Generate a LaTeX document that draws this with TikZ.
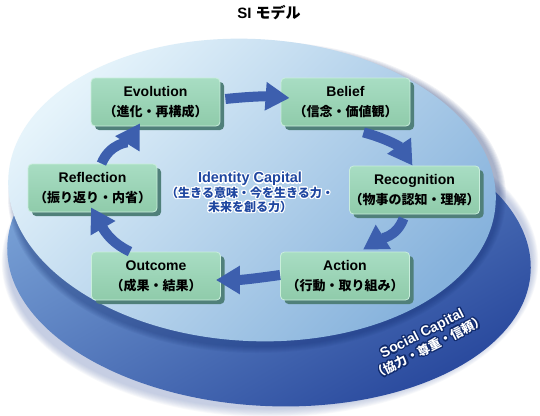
\documentclass[tikz,border=0pt]{standalone}
\usepackage{fontspec}
\setmainfont{Liberation Sans}
\newfontfamily\jp{Noto Sans CJK JP}
\usepackage{contour}
\usetikzlibrary{arrows.meta,shadows}
\definecolor{arrowblue}{HTML}{3D5FAE}
\definecolor{boxTop}{HTML}{A8DDC3}
\definecolor{boxBot}{HTML}{8FCBAA}
\definecolor{boxEdge}{HTML}{C9EEDC}
\definecolor{boxShadow}{HTML}{50807A}
\definecolor{innerTL}{HTML}{E6F4FB}
\definecolor{innerBR}{HTML}{86B2DC}
\definecolor{outerL}{HTML}{7FA8DA}
\definecolor{outerR}{HTML}{2A4A9E}
\definecolor{shadowBlue}{HTML}{8A9CC8}
\definecolor{idBlue}{HTML}{1E46A0}
\definecolor{socNavy}{HTML}{102A6C}
\tikzset{
  box/.style={rounded corners=4pt, minimum width=129pt, minimum height=48pt,
    inner sep=0pt, align=center, top color=boxTop, bottom color=boxBot,
    draw=boxEdge, line width=0.8pt, text=black,
    general shadow={fill=boxShadow, shadow xshift=4pt, shadow yshift=-4pt},
    font=\bfseries\fontsize{14}{20}\selectfont},
  flow/.style={draw=arrowblue, line width=10pt,
    -{Triangle[width=27pt,length=24pt]}, arrowblue}
}
\newcommand{\jpt}[1]{{\jp\bfseries\fontsize{13}{20}\selectfont #1}}
\begin{document}
\begin{tikzpicture}[x=1pt,y=1pt]
\useasboundingbox (0,0) rectangle (540,-415);
\fill[white] (0,0) rectangle (540,-415);
% soft shadow of outer disc
\foreach \k in {0,...,9} {
  \fill[shadowBlue, opacity=0.06] (270,-262) ellipse [x radius={262+\k*0.7}, y radius={147+\k*0.9}];
}
% outer disc (Social Capital)
\shade[left color=outerL, right color=outerR, shading angle=30, rotate around={-3:(269,-258)}]
  (269,-258) ellipse [x radius=262, y radius=148];
% shadow of inner disc onto outer
\foreach \k in {0,...,6} {
  \fill[socNavy, opacity=0.06] (257,-197) ellipse [x radius={243+\k}, y radius={150+\k}];
}
% inner disc (Identity Capital)
\shade[top color=innerTL, bottom color=innerBR, shading angle=45, rotate around={-3:(252,-190)}]
  (252,-190) ellipse [x radius=244, y radius=151];

% title
\node (title) at (269,-13) {\fontsize{15}{18}\selectfont\bfseries SI {\jp\bfseries モデル}};

% boxes
\node[box] (evo) at (155.5,-102) {Evolution\\\jpt{（進化・再構成）}};
\node[box] (bel) at (345.5,-102) {Belief\\\jpt{（信念・価値観）}};
\node[box] (ref) at (92.5,-188) {Reflection\\\jpt{（振り返り・内省）}};
\node[box] (rec) at (414.5,-190) {Recognition\\\jpt{（物事の認知・理解）}};
\node[box] (out) at (156,-276) {Outcome\\\jpt{（成果・結果）}};
\node[box] (act) at (345,-276) {Action\\\jpt{（行動・取り組み）}};

% cycle arrows
\draw[flow] ([shift={(5pt,3pt)}]evo.east) to[bend left=5] ([shift={(9pt,4pt)}]bel.west);
\draw[flow] ([shift={(18pt,-6pt)}]bel.south) to[out=-15,in=124] ([xshift=-2pt]rec.north);
\draw[flow] ([shift={(-11pt,-4pt)}]rec.south) to[out=-110,in=32] ([shift={(18pt,2pt)}]act.north);
\draw[flow] ([shift={(0pt,1pt)}]act.west) to[out=188,in=0] ([shift={(-5pt,-4pt)}]out.east);
\draw[flow] ([shift={(-26pt,0pt)}]out.north) to[out=155,in=-60] ([shift={(-1.5pt,5pt)}]ref.south);
\draw[flow] ([shift={(9pt,0pt)}]ref.north) to[out=68,in=-122] ([shift={(-15.5pt,3pt)}]evo.south);

% center label
\contourlength{1.2pt}
\node[text=idBlue, align=center] (idc) at (250,-193)
  {\contour{white}{\bfseries\fontsize{14.5}{17}\selectfont Identity Capital}\\[-1pt]
   \contour{white}{\jp\bfseries\fontsize{12}{16}\selectfont （生きる意味・今を生きる力・}\\
   \contour{white}{\jp\bfseries\fontsize{12}{16}\selectfont 未来を創る力）}};

% social capital label
\node[text=white, align=center, rotate=27] (soc) at (426,-341)
  {\contour{socNavy}{\bfseries\fontsize{14}{17}\selectfont Social Capital}\\
   \contour{socNavy}{\jp\bfseries\fontsize{12.5}{16}\selectfont （協力・尊重・信頼）}};
\end{tikzpicture}
\end{document}
